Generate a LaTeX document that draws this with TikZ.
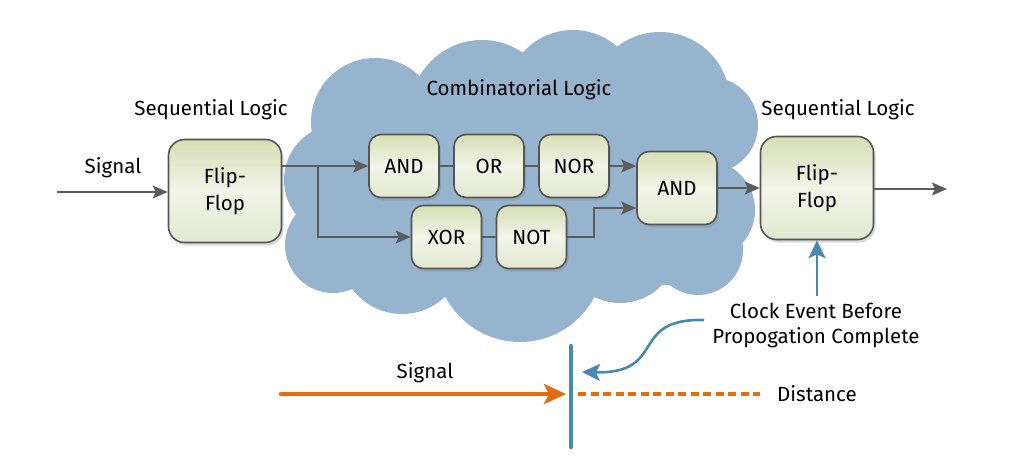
\documentclass[tikz,border=0pt]{standalone}
\usepackage{fontspec}
\setmainfont{Fira Sans}
\usetikzlibrary{arrows.meta,shadows,positioning}
\definecolor{cloudc}{RGB}{151,180,207}
\definecolor{boxtop}{RGB}{214,222,180}
\definecolor{boxmid}{RGB}{242,244,232}
\definecolor{boxbot}{RGB}{226,232,208}
\definecolor{edgec}{RGB}{85,85,85}
\definecolor{connc}{RGB}{92,92,92}
\definecolor{bluec}{RGB}{74,136,178}
\definecolor{orangec}{RGB}{226,108,14}
\begin{document}
\begin{tikzpicture}[x=1pt,y=-1pt,
  font=\fontsize{20.5}{24}\selectfont,
  gbox/.style={draw=edgec,line width=1.6pt,rounded corners=12pt,
    top color=boxtop,bottom color=boxbot,middle color=boxmid,
    drop shadow={shadow xshift=2pt,shadow yshift=-3pt,opacity=0.3},
    minimum width=70pt,minimum height=63pt,inner sep=0pt,align=center},
  ffbox/.style={gbox,minimum width=113pt,minimum height=103pt,rounded corners=16pt,
    font=\fontsize{20.5}{27}\selectfont},
  conn/.style={draw=connc,line width=2pt,-{Stealth[length=15pt,width=13pt,inset=3pt]}},
  plain/.style={draw=connc,line width=2pt},
  lbl/.style={inner sep=0pt,align=center},
  bluearr/.style={draw=bluec,line width=2.6pt,-{Stealth[length=18pt,width=17pt,inset=4pt]}},
]
\useasboundingbox (0,0) rectangle (1025,469);
% cloud
\begin{scope}[fill=cloudc]
  \fill (320,100) rectangle (725,285);
  \fill (375,122) circle (64);
  \fill (482,112) circle (72);
  \fill (573,97) circle (67);
  \fill (660,102) circle (70);
  \fill (710,125) circle (48);
  \fill (340,180) circle (56);
  \fill (333,245) circle (48);
  \fill (402,252) circle (62);
  \fill (520,258) circle (84);
  \fill (620,245) circle (58);
  \fill (705,210) circle (50);
  \fill (698,250) circle (45);
  \fill (370,200) circle (60);
\end{scope}
% labels
\node[lbl] (seqL) at (211,110) {Sequential Logic};
\node[lbl] (seqR) at (838,110) {Sequential Logic};
\node[lbl] (comb) at (519,90) {Combinatorial Logic};
\node[lbl] (sig1) at (113,168) {Signal};
% boxes
\node[ffbox] (ff1) at (225,191) {Flip-\\Flop};
\node[ffbox] (ff2) at (817,188) {Flip-\\Flop};
\node[gbox] (and1) at (404,166) {AND};
\node[gbox] (or1) at (489,166) {OR};
\node[gbox] (nor1) at (574,166) {NOR};
\node[gbox] (xor1) at (446.5,237) {XOR};
\node[gbox] (not1) at (531.5,237) {NOT};
\node[gbox,minimum width=80pt,minimum height=73pt] (and2) at (677,188) {AND};
% connectors
\coordinate (in) at (57,192);
\coordinate (br) at (318,166);
\coordinate (out) at (947,189);
\draw[conn] (in) -- (ff1.west |- in);
\draw[conn] (ff1.east |- and1.west) -- (and1.west);
\draw[conn] (br) |- (xor1.west);
\draw[plain] (and1.east) -- (or1.west);
\draw[plain] (or1.east) -- (nor1.west);
\draw[plain] (xor1.east) -- (not1.west);
\draw[conn] (nor1.east) -- (nor1.east -| and2.west);
\draw[conn] (not1.east) -- ++(27,0) |- ([yshift=-20pt]and2.west);
\draw[conn] (and2.east) -- (and2.east -| ff2.west);
\draw[conn] (ff2.east |- out) -- (out);
% clock
\node[lbl,font=\fontsize{20.5}{25}\selectfont] (clk) at (816,325) {Clock Event Before\\Propogation Complete};
\draw[bluearr] (ff2.south |- 0,296) -- (ff2.south);
\coordinate (cstart) at (704,320);
\coordinate (cend) at (582,372);
\draw[bluearr] (cstart) .. controls (628,318) and (668,374) .. (cend);
% timeline
\coordinate (bartop) at (571,346);
\coordinate (barbot) at (571,447);
\draw[draw=bluec,line width=4.5pt,line cap=round] (bartop) -- (barbot);
\coordinate (s0) at (281,394);
\coordinate (s1) at (566,394);
\draw[draw=orangec,line width=4.5pt,line cap=round,-{Stealth[length=22pt,width=20pt,inset=5pt]}] (s0) -- (s1);
\coordinate (d0) at (578,394);
\coordinate (d1) at (760,394);
\draw[draw=orangec,line width=4.5pt,dash pattern=on 8pt off 4.5pt] (d0) -- (d1);
\node[lbl] (sig2) at (425,373) {Signal};
\node[lbl] (dist) at (817,394) {Distance};
\end{tikzpicture}
\end{document}
